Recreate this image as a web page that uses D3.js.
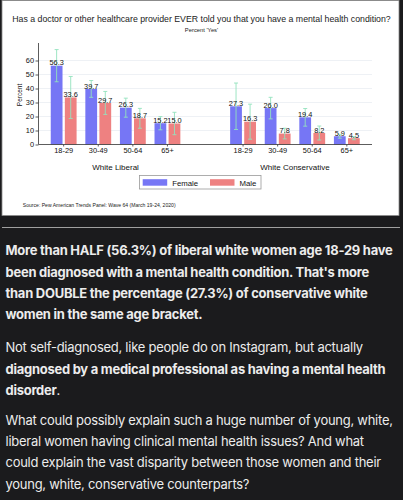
<!DOCTYPE html>
<html><head><meta charset="utf-8">
<script src="https://cdn.jsdelivr.net/npm/d3@7"></script>
<style>
html,body{margin:0;padding:0;background:#1b1b1d;}
svg{display:block;}
</style></head>
<body>
<svg id="c" width="403" height="500"></svg>
<script>
// ---- data ----
const panels = ["White Liberal", "White Conservative"];
const ages = ["18-29", "30-49", "50-64", "65+"];
const sexes = ["Female", "Male"];
const liberalFemale = [56.3, 39.7, 26.3, 15.2];
const liberalMale = [33.6, 29.7, 18.7, 15.0];
const conservativeFemale = [27.3, 26.0, 19.4, 5.9];
const conservativeMale = [16.3, 7.8, 8.2, 4.5];
const liberalFemaleCI = [[44.8, 67.8], [33.7, 45.7], [19.5, 33.1], [10.5, 19.9]];
const liberalMaleCI = [[18.6, 48.6], [21.5, 37.9], [11.6, 25.8], [7.0, 23.0]];
const conservativeFemaleCI = [[10.7, 43.9], [18.3, 33.7], [13.1, 25.7], [4.5, 7.3]];
const conservativeMaleCI = [[3.8, 28.8], [4.0, 11.6], [3.2, 13.2], [3.4, 5.6]];
const yTicks = [0, 10, 20, 30, 40, 50, 60];
const titleText = "Has a doctor or other healthcare provider EVER told you that you have a mental health condition?";
const subtitleText = "Percent 'Yes'";
const sourceText = "Source: Pew American Trends Panel: Wave 64 (March 19-24, 2020)";
const paragraphs = [
  [[["More than HALF (56.3%) of liberal white women age 18-29 have", true]],
   [["been diagnosed with a mental health condition. That's more", true]],
   [["than DOUBLE the percentage (27.3%) of conservative white", true]],
   [["women in the same age bracket.", true]]],
  [[["Not self-diagnosed, like people do on Instagram, but actually", false]],
   [["diagnosed by a medical professional as having a mental health", true]],
   [["disorder", true], [".", false]]],
  [[["What could possibly explain such a huge number of young, white,", false]],
   [["liberal women having clinical mental health issues? And what", false]],
   [["could explain the vast disparity between those women and their", false]],
   [["young, white, conservative counterparts?", false]]]
];

const rows = [];
ages.forEach((a, i) => {
  rows.push({panel: panels[0], age: a, sex: "Female", v: liberalFemale[i], ci: liberalFemaleCI[i]});
  rows.push({panel: panels[0], age: a, sex: "Male", v: liberalMale[i], ci: liberalMaleCI[i]});
  rows.push({panel: panels[1], age: a, sex: "Female", v: conservativeFemale[i], ci: conservativeFemaleCI[i]});
  rows.push({panel: panels[1], age: a, sex: "Male", v: conservativeMale[i], ci: conservativeMaleCI[i]});
});

const svg = d3.select("#c");
const font = "'Liberation Sans', Arial, Helvetica, sans-serif";
const colors = {Female: "#7676f5", Male: "#ee8181"};
const ciColor = "#93e2bd";

function fitWidth(sel, target) {
  const fs = +sel.attr("font-size");
  const w = sel.node().getComputedTextLength();
  if (w > 0) sel.attr("font-size", fs * target / w);
}

// background panels
svg.append("rect").attr("x", 0).attr("y", 0).attr("width", 403).attr("height", 500).attr("fill", "#1b1b1d");
svg.append("rect").attr("x", 2).attr("y", 0.5).attr("width", 397).attr("height", 215).attr("fill", "#fff")
  .attr("stroke", "#8a8a8a").attr("stroke-width", 0.8);
svg.append("line").attr("x1", 2).attr("x2", 400).attr("y1", 227.5).attr("y2", 227.5)
  .attr("stroke", "#a0a0a0").attr("stroke-width", 1.2);

// title
const title = svg.append("text").attr("x", 201.5).attr("y", 22).attr("text-anchor", "middle")
  .attr("font-family", font).attr("font-size", 8.4).attr("fill", "#222").text(titleText);
fitWidth(title, 378);
svg.append("text").attr("x", 201.5).attr("y", 31.5).attr("text-anchor", "middle")
  .attr("font-family", font).attr("font-size", 5.8).attr("fill", "#222").text(subtitleText);

// scales
const left = 38.5, right = 372, y0 = 144.5, yTop = 43;
const y = d3.scaleLinear().domain([0, 72.5]).range([y0, yTop]);
const xPanel = d3.scaleBand().domain(panels).range([left, right]).paddingInner(0.229).paddingOuter(0.044);
const xAge = d3.scaleBand().domain(ages).range([0, xPanel.bandwidth()]).paddingInner(0.253).paddingOuter(0.126);
const xSex = d3.scaleBand().domain(sexes).range([0, xAge.bandwidth()]).paddingInner(0.164);
const bx = d => xPanel(d.panel) + xAge(d.age) + xSex(d.sex);

// gridlines
svg.append("g").selectAll("line").data(yTicks.filter(t => t > 0)).join("line")
  .attr("x1", left).attr("x2", right).attr("y1", d => y(d)).attr("y2", d => y(d))
  .attr("stroke", "#eaeef2").attr("stroke-width", 0.8);

// bars
svg.append("g").selectAll("rect").data(rows).join("rect")
  .attr("x", bx).attr("width", xSex.bandwidth())
  .attr("y", d => y(d.v)).attr("height", d => y(0) - y(d.v))
  .attr("fill", d => colors[d.sex]);

// error bars
const eb = svg.append("g").attr("stroke", ciColor).attr("stroke-width", 0.9).attr("fill", "none");
rows.forEach(d => {
  const cx = bx(d) + xSex.bandwidth() / 2;
  eb.append("line").attr("x1", cx).attr("x2", cx).attr("y1", y(d.ci[0])).attr("y2", y(d.ci[1]));
  [d.ci[0], d.ci[1]].forEach(v => eb.append("line").attr("x1", cx - 2).attr("x2", cx + 2).attr("y1", y(v)).attr("y2", y(v)));
});

// value labels
svg.append("g").selectAll("text").data(rows).join("text")
  .attr("x", d => bx(d) + xSex.bandwidth() / 2).attr("y", d => y(d.v) - 0.3)
  .attr("text-anchor", "middle").attr("font-family", font).attr("font-size", 7.4).attr("fill", "#111")
  .text(d => d.v.toFixed(1));

// y axis
const yAxis = svg.append("g").attr("transform", `translate(${left},0)`)
  .call(d3.axisLeft(y).tickValues(yTicks).tickSize(3).tickPadding(1.5));
yAxis.select(".domain").attr("d", `M0,${y0}V${yTop}`).attr("stroke", "#333").attr("stroke-width", 0.8);
yAxis.selectAll(".tick line").attr("stroke", "#333").attr("stroke-width", 0.8);
yAxis.selectAll("text").attr("font-family", font).attr("font-size", 7.4).attr("fill", "#111");

// x axis line
svg.append("line").attr("x1", left).attr("x2", right).attr("y1", y0).attr("y2", y0)
  .attr("stroke", "#333").attr("stroke-width", 0.8);

// x axes per panel
panels.forEach(p => {
  const ax = d3.scaleBand().domain(ages).range([xPanel(p), xPanel(p) + xPanel.bandwidth()]).paddingInner(0.253).paddingOuter(0.126);
  const g = svg.append("g").attr("transform", `translate(0,${y0})`).call(d3.axisBottom(ax).tickSize(2).tickPadding(1.5));
  g.select(".domain").remove();
  g.selectAll(".tick line").attr("stroke", "#333").attr("stroke-width", 0.8);
  g.selectAll("text").attr("font-family", font).attr("font-size", 7.4).attr("fill", "#111");
  svg.append("text").attr("x", xPanel(p) + xPanel.bandwidth() / 2).attr("y", 169.5).attr("text-anchor", "middle")
    .attr("font-family", font).attr("font-size", 8).attr("fill", "#111").text(p);
});

// y label
svg.append("text").attr("transform", "translate(22.3,95) rotate(-90)").attr("text-anchor", "middle")
  .attr("font-family", font).attr("font-size", 6.5).attr("fill", "#111").text("Percent");

// legend
svg.append("rect").attr("x", 139.5).attr("y", 175.5).attr("width", 121.5).attr("height", 13.5)
  .attr("fill", "#fff").attr("stroke", "#999").attr("stroke-width", 0.8);
const legX = {Female: 142.7, Male: 210};
sexes.forEach(s => {
  svg.append("rect").attr("x", legX[s]).attr("y", 179.2).attr("width", 24.5).attr("height", 6.5).attr("fill", colors[s]);
  svg.append("text").attr("x", legX[s] + 29.5).attr("y", 185.6).attr("font-family", font).attr("font-size", 7.8)
    .attr("fill", "#111").text(s);
});

// source
const src = svg.append("text").attr("x", 22.8).attr("y", 206.8).attr("font-family", font).attr("font-size", 4.8)
  .attr("fill", "#222").text(sourceText);
fitWidth(src, 153);

// body text
const textFont = "Inter, 'Noto Sans', sans-serif";
const baselines = [[255, 276.7, 297.7, 318.5], [352, 373.5, 394.5], [424.5, 446, 467, 488.5]];
const lines = [];
paragraphs.forEach((para, pi) => {
  para.forEach((line, li) => {
    const t = svg.append("text").attr("x", 5.5).attr("y", baselines[pi][li])
      .attr("font-family", textFont).attr("font-size", 13.6).attr("letter-spacing", "-0.25px").attr("fill", "#ececec");
    line.forEach(([s, b]) => t.append("tspan").attr("font-weight", b ? 700 : 400).text(s));
    lines.push(t);
  });
});
// common size so the first line spans the same width as in the picture
const w0 = lines[0].node().getComputedTextLength();
const bodySize = 13.6 * 388 / w0;
lines.forEach(t => t.attr("font-size", bodySize));
</script>
</body></html>
